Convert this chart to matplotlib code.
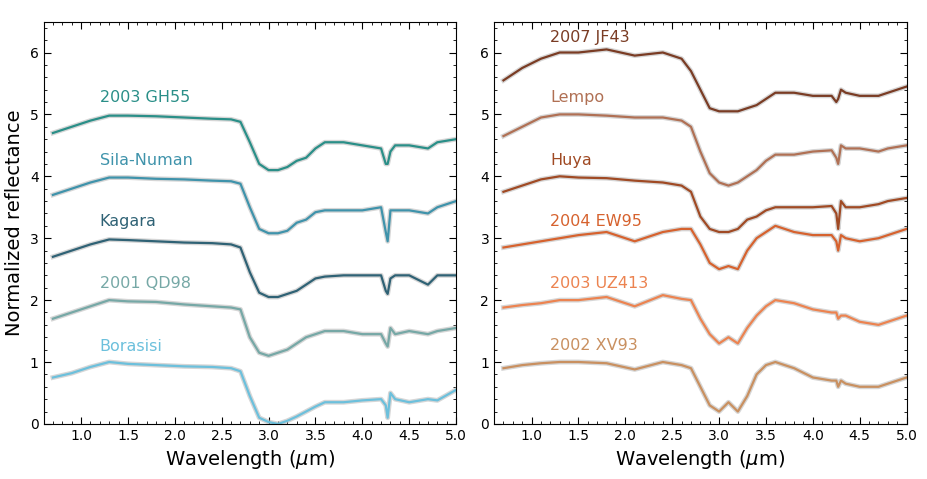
import matplotlib
matplotlib.use("Agg")
import matplotlib.pyplot as plt
from matplotlib.ticker import MultipleLocator

W = [0.7,0.9,1.1,1.3,1.5,1.8,2.1,2.4,2.6,2.7,2.8,2.9,3.0,3.1,3.2,3.3,3.4,3.5,3.6,3.8,4.0,4.2,4.25,4.27,4.3,4.35,4.5,4.7,4.8,5.0]

left_names = ["2003 GH55", "Sila-Numan", "Kagara", "2001 QD98", "Borasisi"]
left_colors = ["#2a8f88", "#3f93ab", "#2f6275", "#76a8a6", "#6cc0dc"]
left_label_y = [5.27, 4.25, 3.27, 2.27, 1.25]
gh55 = [4.70,4.80,4.90,4.98,4.98,4.97,4.95,4.93,4.92,4.88,4.55,4.20,4.10,4.10,4.15,4.25,4.30,4.45,4.55,4.55,4.50,4.45,4.20,4.20,4.40,4.50,4.50,4.45,4.55,4.60]
sila = [3.70,3.80,3.90,3.98,3.98,3.96,3.95,3.93,3.92,3.88,3.50,3.15,3.08,3.08,3.12,3.25,3.30,3.42,3.45,3.45,3.45,3.50,3.10,2.95,3.45,3.45,3.45,3.40,3.50,3.60]
kagara = [2.70,2.80,2.90,2.98,2.97,2.95,2.93,2.92,2.90,2.85,2.45,2.12,2.05,2.05,2.10,2.15,2.25,2.35,2.38,2.40,2.40,2.40,2.15,2.10,2.35,2.40,2.40,2.25,2.40,2.40]
qd98 = [1.70,1.80,1.90,2.00,1.98,1.97,1.93,1.90,1.88,1.85,1.40,1.15,1.10,1.15,1.20,1.30,1.40,1.45,1.50,1.50,1.45,1.45,1.30,1.25,1.55,1.45,1.50,1.45,1.50,1.55]
borasisi = [0.75,0.82,0.92,1.00,0.97,0.95,0.93,0.92,0.90,0.85,0.45,0.10,0.03,0.00,0.05,0.12,0.20,0.28,0.35,0.35,0.38,0.40,0.30,0.10,0.50,0.40,0.35,0.40,0.38,0.55]
left_data = [gh55, sila, kagara, qd98, borasisi]

right_names = ["2007 JF43", "Lempo", "Huya", "2004 EW95", "2003 UZ413", "2002 XV93"]
right_colors = ["#7a3c24", "#b07054", "#a04a24", "#d6622e", "#ec8350", "#c99060"]
right_label_y = [6.25, 5.27, 4.25, 3.27, 2.27, 1.27]
jf43 = [5.55,5.75,5.90,6.00,6.00,6.05,5.95,6.00,5.90,5.70,5.40,5.10,5.05,5.05,5.05,5.10,5.15,5.25,5.35,5.35,5.30,5.30,5.20,5.25,5.40,5.35,5.30,5.30,5.35,5.45]
lempo = [4.65,4.80,4.95,5.00,5.00,4.98,4.95,4.95,4.90,4.80,4.40,4.05,3.90,3.85,3.90,4.00,4.10,4.25,4.35,4.35,4.40,4.42,4.30,4.20,4.50,4.45,4.45,4.40,4.45,4.50]
huya = [3.75,3.85,3.95,4.00,3.98,3.97,3.93,3.90,3.85,3.75,3.35,3.15,3.10,3.10,3.15,3.30,3.35,3.45,3.50,3.50,3.50,3.52,3.40,3.15,3.60,3.50,3.50,3.55,3.60,3.65]
ew95 = [2.85,2.90,2.95,3.00,3.05,3.10,2.95,3.10,3.15,3.15,2.90,2.60,2.50,2.55,2.50,2.80,3.00,3.10,3.20,3.10,3.05,3.05,2.95,2.80,3.05,3.00,2.95,3.00,3.05,3.15]
uz413 = [1.88,1.92,1.95,2.00,2.00,2.05,1.90,2.08,2.02,2.00,1.70,1.45,1.30,1.40,1.30,1.55,1.75,1.90,2.00,1.95,1.85,1.80,1.80,1.70,1.75,1.75,1.65,1.60,1.65,1.75]
xv93 = [0.90,0.95,0.98,1.00,1.00,0.98,0.88,1.00,0.95,0.90,0.60,0.30,0.20,0.35,0.20,0.45,0.80,0.95,1.00,0.90,0.75,0.70,0.70,0.60,0.70,0.65,0.60,0.60,0.65,0.75]
right_data = [jf43, lempo, huya, ew95, uz413, xv93]

fig = plt.figure(figsize=(9.27, 4.79), dpi=100)
ax1 = fig.add_axes([0.047, 0.115, 0.445, 0.84])
ax2 = fig.add_axes([0.533, 0.115, 0.445, 0.84])

for ax, data, names, colors, ly in [(ax1, left_data, left_names, left_colors, left_label_y),
                                    (ax2, right_data, right_names, right_colors, right_label_y)]:
    for y, n, c, yy in zip(data, names, colors, ly):
        ax.plot(W, y, color="#bbbbbb", lw=3.5, alpha=0.6)
        ax.plot(W, y, color=c, lw=1.6)
        ax.text(1.2, yy, n, color=c, fontsize=11.5, va="center")
    ax.set_xlim(0.6, 5.0)
    ax.set_ylim(0, 6.5)
    ax.xaxis.set_major_locator(MultipleLocator(0.5))
    ax.xaxis.set_minor_locator(MultipleLocator(0.1))
    ax.yaxis.set_major_locator(MultipleLocator(1))
    ax.yaxis.set_minor_locator(MultipleLocator(0.2))
    ax.tick_params(which="both", direction="in", top=True, right=True, labelsize=10)
    ax.tick_params(which="major", length=5)
    ax.tick_params(which="minor", length=2.5)
    ax.set_xlabel(r"Wavelength ($\mu$m)", fontsize=14)
ax1.set_ylabel("Normalized reflectance", fontsize=14)
fig.savefig("out.png", dpi=100)
